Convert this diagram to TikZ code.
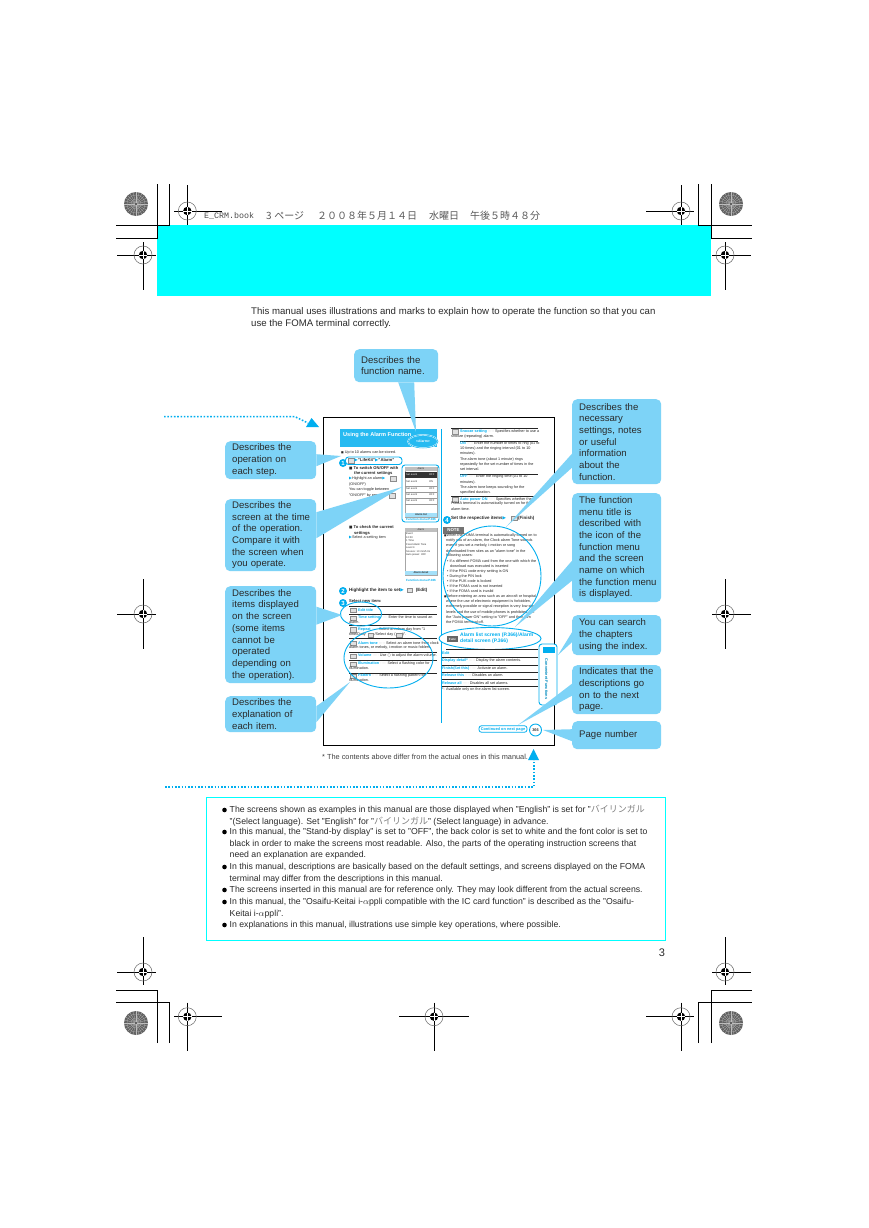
\documentclass[tikz,border=0pt]{standalone}
\usepackage{fontspec}
\setmainfont{Liberation Sans}
\newfontfamily\cjk{Noto Sans CJK JP}
\newfontfamily\sym{DejaVu Sans}
\usetikzlibrary{calc,shapes.geometric}

\definecolor{calloutblue}{HTML}{7DD3F7}
\definecolor{markblue}{HTML}{00AEEF}
\definecolor{pagecyan}{HTML}{00FFFF}
\definecolor{bodygray}{HTML}{2A2A2A}

\newcommand{\fs}[1]{\fontsize{#1}{#1}\selectfont}
\newcommand{\tri}{{\sym\textcolor{markblue}{▶}}}
\newcommand{\jp}[1]{{\cjk\color{gray}\fs{9}#1}}
\newcommand{\dts}{\ {\color{black!45}·····}\ }
\hfuzz=20pt

\tikzset{
	callout/.style={fill=calloutblue, rounded corners=5pt, anchor=north west, inner sep=0pt, inner xsep=7pt, align=left, text=bodygray, text width=#1, font=\fontsize{9.6}{11.7}\selectfont},
	wedgeshape/.style={fill=calloutblue, draw=none},
	ring/.style={draw=markblue, line width=0.9pt},
	cropline/.style={black, line width=0.9pt},
	body/.style={anchor=west, inner sep=0pt, text=bodygray, font=\fs{8.7}},
	mini/.style={anchor=west, inner sep=0pt, text=black!85, font=\fs{3.75}},
	minibold/.style={mini, font=\bfseries\fs{4.1}},
	screentext/.style={anchor=west, inner sep=0pt, text=black!80, font=\fs{2.6}},
	rowline/.style={black!85, line width=0.45pt},
	keybox/.style={draw=black!45, fill=black!12, inner sep=0pt, minimum width=5.5pt, minimum height=4.5pt},
	stepdisc/.style={circle, fill=markblue, text=white, inner sep=0pt, minimum size=8pt, font=\bfseries\fs{6}},
	dotline/.style={markblue, line width=1.5pt, dash pattern=on 1.6pt off 1.7pt},
}

% registration mark: centre, left, right, up, down
\newcommand{\regmark}[6]{
	\draw[black, line width=0.8pt] ({#1-#3},#2) -- ({#1+#4},#2);
	\draw[black, line width=0.8pt] (#1,{#2-#5}) -- (#1,{#2+#6});
	\draw[black!60, line width=0.5pt] (#1,#2) circle (9);
	\fill[black] (#1,#2) circle (4.2);
	\draw[white, line width=0.6pt] ({#1-4.2},#2) -- ({#1+4.2},#2);
	\draw[white, line width=0.6pt] (#1,{#2-4.2}) -- (#1,{#2+4.2});
}
% round colour target in the corners
\newcommand{\gearmark}[2]{
	\fill[black!62] (#1,#2) circle (12);
	\foreach \a in {0,15,...,345}{
		\draw[white!75!black, line width=0.25pt] (#1,#2) -- ++(\a:12);
	}
	\draw[black!35, line width=0.3pt] (#1,#2) circle (5);
	\draw[black!35, line width=0.3pt] (#1,#2) circle (9);
	\fill[black!75] (#1,#2) circle (1.2);
}
% callout pointer: node anchor, half base along x or y, tip
\newcommand{\wedgex}[3]{\fill[wedgeshape] ($(#1)+(0,-#2)$) -- ($(#1)+(0,#2)$) -- (#3) -- cycle;}
\newcommand{\wedgey}[3]{\fill[wedgeshape] ($(#1)+(-#2,0)$) -- ($(#1)+(#2,0)$) -- (#3) -- cycle;}

\begin{document}
\begin{tikzpicture}[x=1pt,y=-1pt]
	\useasboundingbox (0,0) rectangle (868,1228);
	\fill[white] (0,0) rectangle (868,1228);

	% printer's marks
	\fill[pagecyan] (157.3,225) rectangle (711,296);
	\draw[cropline] (157.3,184) -- (157.3,238.3) -- (116,238.3);
	\draw[cropline] (169.3,184) -- (169.3,225) -- (116,225);
	\draw[cropline] (698.3,184) -- (698.3,225) -- (752,225);
	\draw[cropline] (711,184) -- (711,238.3) -- (752,238.3);
	\draw[cropline] (157.3,1043) -- (157.3,990.7) -- (116,990.7);
	\draw[cropline] (169.3,1043) -- (169.3,1002.3) -- (116,1002.3);
	\draw[cropline] (698.3,1043) -- (698.3,1002.3) -- (752,1002.3);
	\draw[cropline] (711,1043) -- (711,990.7) -- (752,990.7);
	\gearmark{136}{204}
	\gearmark{731}{204}
	\gearmark{136}{1023}
	\gearmark{731}{1023}
	\regmark{187.3}{211}{13}{35}{26}{14}
	\regmark{681}{211}{35}{13}{26}{14}
	\regmark{143}{255}{26}{13}{13}{35}
	\regmark{725}{255}{13}{26}{13}{35}
	\regmark{143}{614}{26}{13}{35}{35}
	\regmark{725}{614}{13}{26}{35}{35}
	\regmark{143}{972}{26}{13}{35}{13}
	\regmark{725}{972}{13}{26}{35}{13}
	\regmark{187.3}{1016.7}{13}{35}{14}{34}
	\regmark{434}{1016.7}{35}{35}{14}{34}
	\regmark{681}{1016.7}{35}{13}{14}{34}

	\node[anchor=west, inner sep=0pt, text=black!70, font=\ttfamily\fs{8.33}] (bookname) at (204,216) {\fontspec{Liberation Mono}E\_CRM.book};
	\node[anchor=west, inner sep=0pt, text=black!65, font=\cjk\fs{10}] (bookpage) at (266,216) {3\hspace{2.6pt}ページ};
	\node[anchor=west, inner sep=0pt, text=black!65, font=\cjk\fs{10}] (bookdate) at (317,216) {２００８年５月１４日};
	\node[anchor=west, inner sep=0pt, text=black!65, font=\cjk\fs{10}] (bookday) at (429,216) {水曜日};
	\node[anchor=west, inner sep=0pt, text=black!65, font=\cjk\fs{10}] (booktime) at (470,216) {午後５時４８分};

	% intro text
	\node[body, font=\fs{9.62}] (intro1) at (251,312) {This manual uses illustrations and marks to explain how to operate the function so that you can};
	\node[body, font=\fs{9.62}] (intro2) at (251,324) {use the FOMA terminal correctly.};

	% sample page
	\draw[black, line width=0.9pt] (323.3,417.3) rectangle (554.7,745);
	\fill[markblue!85] (340,429) rectangle (437,447);
	\node[anchor=west, inner sep=0pt, text=white, font=\bfseries\fs{5.6}] (title) at (343,435) {Using the Alarm Function};
	\node[anchor=center, inner sep=0pt, text=white, font=\bfseries\fs{3.4}] (menuname) at (423,441.5) {<Alarm>};
	\draw[white, line width=1.4pt] (423,441.5) ellipse (15 and 6.5);
	\draw[markblue, line width=0.5pt] (423,441.5) ellipse (15 and 6.5);

	% left column
	\node[mini] (up10) at (341,453) {{\sym\fs{2.8}■} Up to 10 alarms can be stored.};
	\node[stepdisc] (stepa) at (343,463) {1};
	\draw[ring, fill=white, rounded corners=3pt] (345.5,457) rectangle (402,464.5);
	\node[keybox] (keya) at (351,460.7) {};
	\node[minibold, font=\bfseries\fs{4.2}] (lifekit) at (354.5,460.7) {\tri"LifeKit"\tri"Alarm"};
	\node[minibold] (sw1) at (349,468.5) {{\sym\fs{3.6}■} To switch ON/OFF with};
	\node[minibold] (sw2) at (354,473) {the current settings};
	\node[mini] (sw3) at (349,478.5) {\tri Highlight an alarm\tri\hspace{7pt}};
	\node[keybox] (keyb) at (393,478.5) {};
	\node[mini] (sw4) at (349,484.5) {(ON/OFF)};
	\node[mini] (sw5) at (349,490) {You can toggle between};
	\node[mini] (sw6) at (349,495.5) {"ON/OFF" by pressing};
	\node[keybox] (keyc) at (392,495.5) {};
	\node[minibold] (ck1) at (349,527.5) {{\sym\fs{3.6}■} To check the current};
	\node[minibold] (ck2) at (354,533) {settings};
	\node[mini] (ck3) at (349,538) {\tri Select a setting item};

	% first screen
	\draw[black!35, line width=0.3pt] (405,467) rectangle (437,517);
	\fill[black!25] (405,467) rectangle (437,470.5);
	\node[screentext, anchor=center] (scra) at (421,468.7) {Alarm};
	\fill[black!80] (405,472) rectangle (437,478);
	\node[screentext, text=white] (scrb) at (406,475) {Set event\hspace{12pt}OFF};
	\node[screentext] (scrc) at (406,482) {Set event\hspace{12pt}ON};
	\draw[black!40, line width=0.25pt] (405,486) -- (437,486);
	\node[screentext] (scrd) at (406,488.5) {Set event\hspace{12pt}OFF};
	\draw[black!40, line width=0.25pt] (405,492) -- (437,492);
	\node[screentext] (scre) at (406,495) {Set event\hspace{12pt}OFF};
	\draw[black!40, line width=0.25pt] (405,498) -- (437,498);
	\node[screentext] (scrf) at (406,501) {Set event\hspace{12pt}OFF};
	\draw[black!40, line width=0.25pt] (405,504) -- (437,504);
	\fill[calloutblue!70] (405,513) rectangle (437,517);
	\node[screentext, anchor=center, font=\bfseries\fs{2.6}] (scrg) at (421,515) {Alarm list};
	\node[screentext, anchor=center, text=markblue, font=\bfseries\fs{3}] (fma) at (421,519.5) {Function menu P.366};
	\draw[ring, rounded corners=3pt] (402,465) rectangle (439,522);

	% second screen
	\draw[black!35, line width=0.3pt] (405,528) rectangle (437,575);
	\fill[black!25] (405,528) rectangle (437,531.5);
	\node[screentext, anchor=center] (deta) at (421,529.8) {Alarm};
	\node[screentext] (detb) at (406,534) {Event};
	\node[screentext] (detc) at (406,537.5) {12:00};
	\node[screentext] (detd) at (406,541) {1 Time};
	\node[screentext] (dete) at (406,544.5) {Fixed Alarm Tone};
	\node[screentext] (detf) at (406,548) {Level 4};
	\node[screentext] (detg) at (406,551.5) {Snooze: 10 min/5 tm};
	\node[screentext] (deth) at (406,555) {Auto power: OFF};
	\fill[calloutblue!70] (405,571) rectangle (437,575);
	\node[screentext, anchor=center, font=\bfseries\fs{2.6}] (deti) at (421,573) {Alarm detail};
	\node[screentext, anchor=center, text=markblue, font=\bfseries\fs{3}] (fmb) at (421,580) {Function menu P.366};

	% steps 2 and 3
	\node[stepdisc] (stepb) at (343,591) {2};
	\node[minibold, font=\bfseries\fs{4.5}] (hl) at (349,590) {Highlight the item to set\tri\hspace{12pt}(Edit)};
	\node[keybox] (keyd) at (409.5,590) {};
	\node[stepdisc] (stepc) at (343,603) {3};
	\node[minibold] (sel) at (349,601) {Select new item:};
	\draw[rowline] (349,606.7) -- (437,606.7);
	\node[keybox] (ka) at (353,610) {};
	\node[mini] (ra1) at (358,610) {\textcolor{markblue}{\bfseries Edit title}};
	\draw[rowline] (349,614) -- (437,614);
	\node[keybox] (kb) at (353,618) {};
	\node[mini] (rb1) at (358,618) {\textcolor{markblue}{\bfseries Time setting}\dts Enter the time to sound an};
	\node[mini] (rb2) at (349,622.5) {alarm.};
	\draw[rowline] (349,625.5) -- (437,625.5);
	\node[keybox] (kc) at (353,629.5) {};
	\node[mini] (rc1) at (358,629.5) {\textcolor{markblue}{\bfseries Repeat}\dts Select an alarm day from "1};
	\node[mini] (rc2) at (349,635) {time/Daily\hspace{9pt}/Select day (\hspace{7pt})".};
	\node[keybox] (kc2) at (370.5,635) {};
	\node[keybox] (kc3) at (399,635) {};
	\draw[rowline] (349,638.5) -- (437,638.5);
	\node[keybox] (kd) at (353,643) {};
	\node[mini] (rd1) at (358,643) {\textcolor{markblue}{\bfseries Alarm tone}\dts Select an alarm tone from clock};
	\node[mini] (rd2) at (349,648) {alarm tones, or melody, i-motion or music folders.};
	\draw[rowline] (349,652) -- (437,652);
	\node[keybox] (ke) at (353,656) {};
	\node[mini] (re1) at (358,656) {\textcolor{markblue}{\bfseries Volume}\dts Use {\sym○} to adjust the alarm volume.};
	\draw[rowline] (349,660) -- (437,660);
	\node[keybox] (kf) at (353,664) {};
	\node[mini] (rf1) at (358,664) {\textcolor{markblue}{\bfseries Illumination}\dts Select a flashing color for};
	\node[mini] (rf2) at (349,668.5) {illumination.};
	\draw[rowline] (349,673) -- (437,673);
	\node[keybox] (kg) at (353,676) {};
	\node[mini] (rg1) at (358,676) {\textcolor{markblue}{\bfseries Pattern}\dts Select a flashing pattern for};
	\node[mini] (rg2) at (349,680.5) {illumination.};
	\draw[ring] (361,614) ellipse (20.5 and 12);
	\draw[ring] (388.5,658) ellipse (44.5 and 30);

	% divider
	\draw[markblue, line width=0.8pt] (441,429) -- (441,723);

	% right column
	\draw[rowline] (451,428) -- (538,428);
	\node[keybox] (kh) at (455,431.5) {};
	\node[mini] (sa1) at (460,431.5) {\textcolor{markblue}{\bfseries Snooze setting}\dts Specifies whether to use a};
	\node[mini] (sa2) at (451,436.5) {snooze (repeating) alarm.};
	\draw[rowline] (460,441) -- (538,441);
	\node[mini] (sb1) at (460,443.5) {\textcolor{markblue}{\bfseries ON}\dts Enter the number of times to ring (01 to};
	\node[mini] (sb2) at (460,449) {10 times) and the ringing interval (01 to 10};
	\node[mini] (sb3) at (460,454) {minutes).};
	\node[mini] (sb4) at (460,459.5) {The alarm tone (about 1 minute) rings};
	\node[mini] (sb5) at (460,465) {repeatedly for the set number of times in the};
	\node[mini] (sb6) at (460,469.5) {set interval.};
	\draw[rowline] (460,474) -- (538,474);
	\node[mini] (sc1) at (460,477) {\textcolor{markblue}{\bfseries OFF}\dts Enter the ringing time (01 to 10};
	\node[mini] (sc2) at (460,482.5) {minutes).};
	\node[mini] (sc3) at (460,487.5) {The alarm tone keeps sounding for the};
	\node[mini] (sc4) at (460,492.5) {specified duration.};
	\draw[rowline] (451,496) -- (538,496);
	\node[keybox] (ki) at (455,499.5) {};
	\node[mini] (sd1) at (460,499.5) {\textcolor{markblue}{\bfseries Auto power ON}\dts Specifies whether the};
	\node[mini] (sd2) at (451,504) {FOMA terminal is automatically turned on for the};
	\node[mini] (sd3) at (451,509) {alarm time.};
	\node[stepdisc] (stepd) at (447,520) {4};
	\node[minibold, font=\bfseries\fs{4.5}] (setitems) at (451,518) {Set the respective items\tri\hspace{12pt}(Finish)};
	\node[keybox] (kj) at (514,518) {};
	\fill[black!55] (443,527) rectangle (464,533.5);
	\node[anchor=center, inner sep=0pt, text=white, font=\bfseries\fs{4.4}] (note) at (453.5,530.3) {NOTE};
	\node[mini] (na) at (444,535.5) {{\sym\fs{2.6}■}When the FOMA terminal is automatically turned on to};
	\node[mini] (nb) at (446,541) {notify you of an alarm, the Clock alarm Tone sounds};
	\node[mini] (nc) at (446,546) {even if you set a melody, i-motion or song};
	\node[mini] (nd) at (446,551) {downloaded from sites as an "alarm tone" in the};
	\node[mini] (ne) at (446,556) {following cases:};
	\node[mini] (nf) at (447,561.5) {• If a different FOMA card from the one with which the};
	\node[mini] (ng) at (450,566.5) {download was executed is inserted};
	\node[mini] (nh) at (447,571.5) {• If the PIN1 code entry setting is ON};
	\node[mini] (ni) at (447,576.5) {• During the PIN lock};
	\node[mini] (nj) at (447,581.5) {• If the PUK code is locked};
	\node[mini] (nk) at (447,586.5) {• If the FOMA card is not inserted};
	\node[mini] (nl) at (447,591.5) {• If the FOMA card is invalid};
	\node[mini] (nm) at (444,597) {{\sym\fs{2.6}■}Before entering an area such as an aircraft or hospital};
	\node[mini] (nn) at (446,602) {where the use of electronic equipment is forbidden,};
	\node[mini] (no) at (446,607) {extremely possible or signal reception is very low signal};
	\node[mini] (np) at (446,612.5) {levels and the use of mobile phones is prohibited, set};
	\node[mini] (nq) at (446,617.5) {the "Auto power ON" setting to "OFF" and then turn};
	\node[mini] (nr) at (446,622.5) {the FOMA terminal off.};
	\draw[ring] (492,576) ellipse (49 and 50);

	% function menu table
	\draw[ring, fill=white] (490,638.5) ellipse (51 and 11);
	\fill[black!60] (447,636) rectangle (458,642);
	\node[anchor=center, inner sep=0pt, text=white, font=\bfseries\fs{3}] (func) at (452.5,639) {Func};
	\node[anchor=west, inner sep=0pt, text=markblue, font=\bfseries\fs{5}] (fta) at (460,635.5) {Alarm list screen (P.366)/Alarm};
	\node[anchor=west, inner sep=0pt, text=markblue, font=\bfseries\fs{5}] (ftb) at (460,641.5) {detail screen (P.366)};
	\draw[rowline, line width=0.8pt] (446,649.5) -- (538,649.5);
	\node[mini] (tda) at (442,653) {\textcolor{markblue}{\bfseries Edit}};
	\draw[rowline] (442,657) -- (538,657);
	\node[mini] (tdb) at (442,661) {\textcolor{markblue}{\bfseries Display detail*}\dts Display the alarm contents.};
	\draw[rowline] (442,665) -- (538,665);
	\node[mini] (tdc) at (442,668.5) {\textcolor{markblue}{\bfseries Finish(Set this)}\dts Activate an alarm.};
	\draw[rowline] (442,672) -- (538,672);
	\node[mini] (tdd) at (442,675.5) {\textcolor{markblue}{\bfseries Release this}\dts Disables an alarm.};
	\draw[rowline] (442,679) -- (538,679);
	\node[mini] (tde) at (442,683) {\textcolor{markblue}{\bfseries Release all}\dts Disables all set alarms.};
	\draw[rowline] (442,686.7) -- (538,686.7);
	\node[mini] (tdf) at (442,689.7) {*: Available only on the alarm list screen.};

	% index tab, continued, page number
	\draw[ring, fill=white, rounded corners=3pt] (539,644) rectangle (557,705);
	\fill[markblue] (543,647) rectangle (555,653);
	\node[anchor=center, rotate=-90, inner sep=0pt, text=markblue!80!black, font=\bfseries\fs{3.9}] (tabtext) at (546.5,679) {Convenient Functions};
	\node[draw=markblue, line width=0.8pt, rounded corners=2.5pt, minimum width=48pt, minimum height=6.5pt, inner sep=0pt, text=markblue, font=\bfseries\fs{3.9}] (contd) at (503,729) {Continued on next page};
	\node[draw=markblue, line width=0.9pt, circle, minimum size=12pt, inner sep=0pt, font=\bfseries\fs{3.9}, text=black!80] (pagenum) at (535.5,730) {366};

	% callouts
	\node[callout=70pt, minimum width=84pt, minimum height=33pt] (boxname) at (354,349) {Describes the\\function name.};
	\node[callout=77pt, minimum width=91pt, minimum height=38pt] (boxstep) at (225,441) {Describes the\\operation on\\each step.};
	\node[callout=77pt, minimum width=91pt, minimum height=72pt] (boxscreen) at (225,499) {Describes the\\\mbox{screen at the time}\\of the operation.\\Compare it with\\the screen when\\you operate.};
	\node[callout=77pt, minimum width=91pt, minimum height=97pt] (boxitems) at (225,586) {Describes the\\items displayed\\on the screen\\(some items\\cannot be\\operated\\depending on\\the operation).};
	\node[callout=77pt, minimum width=91pt, minimum height=36pt] (boxexpl) at (225,696) {Describes the\\explanation of\\each item.};
	\node[callout=75pt, minimum width=89pt, minimum height=85pt] (boxnotes) at (572,399) {Describes the\\necessary\\settings, notes\\or useful\\information\\about the\\function.};
	\node[callout=75pt, minimum width=89pt, minimum height=109pt] (boxmenu) at (572,493) {The function\\menu title is\\described with\\the icon of the\\function menu\\and the screen\\name on which\\\mbox{the function menu}\\is displayed.};
	\node[callout=75pt, minimum width=89pt, minimum height=40pt] (boxindex) at (572,615) {You can search\\the chapters\\using the index.};
	\node[callout=75pt, minimum width=89pt, minimum height=49pt] (boxnext) at (572,665) {\mbox{Indicates that the}\\descriptions go\\on to the next\\page.};
	\node[callout=75pt, minimum width=89pt, minimum height=28pt] (boxpage) at (572,721) {Page number};

	% pointers
	\coordinate (tipname) at (416,432);
	\coordinate (tipstep) at (341,456);
	\coordinate (tipscreen) at (402,487);
	\coordinate (tipitems) at (342,615);
	\coordinate (tipexpl) at (350,682);
	\coordinate (tipnotes) at (506,527);
	\coordinate (tipmenu) at (515,627);
	\coordinate (tipindex) at (558,655);
	\coordinate (tipnext) at (518,725);
	\coordinate (tippage) at (543,730);
	\wedgey{$(boxname.south)+(10,0)$}{8}{tipname}
	\wedgex{boxstep.east}{6}{tipstep}
	\wedgex{$(boxscreen.east)+(0,-10)$}{13}{tipscreen}
	\wedgex{$(boxitems.east)+(0,-19)$}{9}{tipitems}
	\wedgex{boxexpl.east}{8}{tipexpl}
	\wedgex{$(boxnotes.west)+(0,19)$}{7}{tipnotes}
	\wedgex{$(boxmenu.west)+(0,23)$}{10}{tipmenu}
	\wedgex{$(boxindex.west)+(0,2)$}{5}{tipindex}
	\wedgex{boxnext.west}{6}{tipnext}
	\wedgex{boxpage.west}{6}{tippage}

	% dotted arrows
	\coordinate (dota) at (164,416.7);
	\coordinate (dotb) at (295,416.7);
	\coordinate (dotc) at (308,423);
	\draw[dotline] (dota) -- (dotb) -- (dotc);
	\fill[markblue] (311.5,418) -- (306,427) -- (319,427) -- cycle;
	\coordinate (dotd) at (165,787);
	\coordinate (dote) at (534,787);
	\coordinate (dotf) at (534,760);
	\draw[dotline] (dotd) -- (dote) -- (dotf);
	\fill[markblue] (533.5,749) -- (528,760) -- (539,760) -- cycle;

	\node[anchor=west, inner sep=0pt, text=black!75, font=\fs{7.35}] (footnote) at (322,757) {*  The contents above differ from the actual ones in this manual.};

	% notes box
	\draw[pagecyan, line width=1.1pt] (206.5,797.3) rectangle (665.7,940.7);
	\fill[black] (224.5,810) circle (2.3);
	\fill[black] (224.5,832) circle (2.3);
	\fill[black] (224.5,867) circle (2.3);
	\fill[black] (224.5,890) circle (2.3);
	\fill[black] (224.5,902) circle (2.3);
	\fill[black] (224.5,925) circle (2.3);
	\node[body] (ta) at (229.5,810) {The screens shown as examples in this manual are those displayed when "English" is set for "\jp{バイリンガル}};
	\node[body] (tb) at (229.5,822) {"(Select language). Set "English" for "\jp{バイリンガル}" (Select language) in advance.};
	\node[body] (tc) at (229.5,832) {In this manual, the "Stand-by display" is set to "OFF", the back color is set to white and the font color is set to};
	\node[body] (td) at (229.5,844) {black in order to make the screens most readable. Also, the parts of the operating instruction screens that};
	\node[body] (te) at (229.5,855) {need an explanation are expanded.};
	\node[body] (tf) at (229.5,867) {In this manual, descriptions are basically based on the default settings, and screens displayed on the FOMA};
	\node[body] (tg) at (229.5,879) {terminal may differ from the descriptions in this manual.};
	\node[body] (th) at (229.5,890) {The screens inserted in this manual are for reference only. They may look different from the actual screens.};
	\node[body] (ti) at (229.5,902) {In this manual, the "Osaifu-Keitai i-$\alpha$ppli compatible with the IC card function" is described as the "Osaifu-};
	\node[body] (tj) at (229.5,914) {Keitai i-$\alpha$ppli".};
	\node[body] (tk) at (229.5,925) {In explanations in this manual, illustrations use simple key operations, where possible.};

	\node[anchor=center, inner sep=0pt, text=bodygray, font=\fs{11}] (pagethree) at (662,953) {3};
\end{tikzpicture}
\end{document}
